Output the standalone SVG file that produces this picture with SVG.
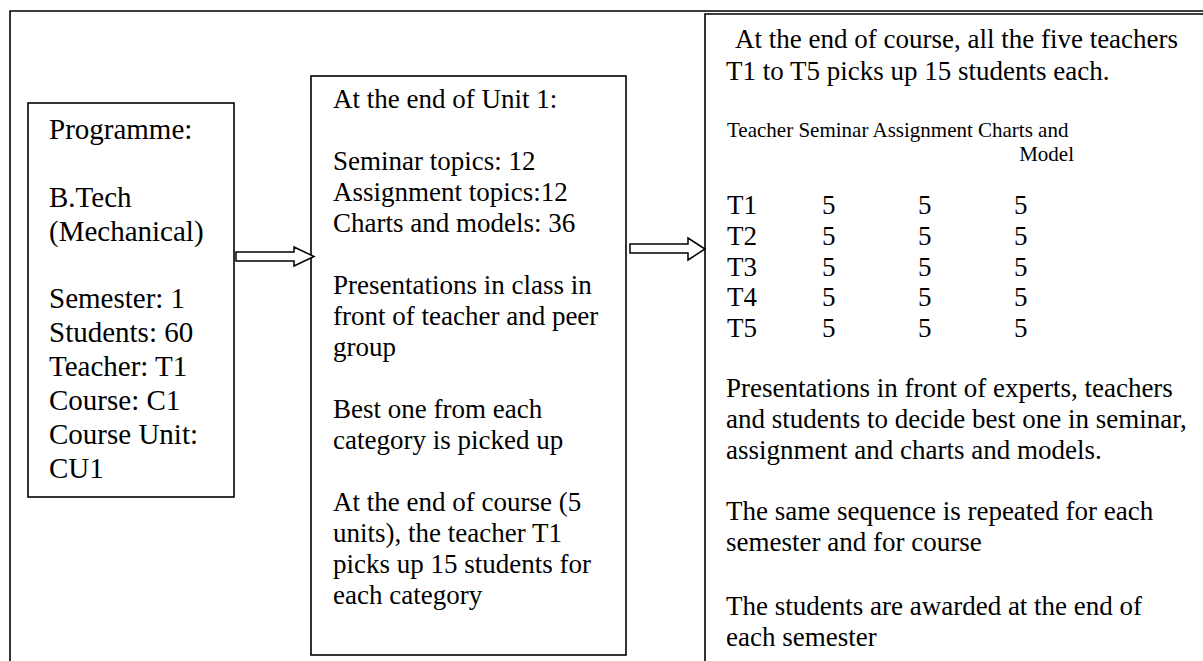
<svg xmlns="http://www.w3.org/2000/svg" width="1203" height="661" viewBox="0 0 1203 661">
<style>
.frame{fill:none;stroke:#000;stroke-width:1.6}
.box{fill:#fff;stroke:#000;stroke-width:1.6}
.arrow{fill:#fff;stroke:#000;stroke-width:1.5;stroke-linejoin:miter}
text{font-family:"Liberation Serif","Times New Roman",serif;fill:#000}
.l{font-size:29px}
.m{font-size:27px}
.s{font-size:21px}
</style>
<rect width="1203" height="661" fill="#fff"/>
<g id="frame">
<path class="frame" d="M10,661 V11 H1203"/>
</g>
<g id="node-programme">
<rect class="box" x="28" y="103" width="206" height="394"/>
<text class="l" x="49" y="139">Programme:</text>
<text class="l" x="49" y="207">B.Tech</text>
<text class="l" x="49" y="241">(Mechanical)</text>
<text class="l" x="49" y="308">Semester: 1</text>
<text class="l" x="49" y="342">Students: 60</text>
<text class="l" x="49" y="376">Teacher: T1</text>
<text class="l" x="49" y="410">Course: C1</text>
<text class="l" x="49" y="444">Course Unit:</text>
<text class="l" x="49" y="478">CU1</text>
</g>
<g id="node-unit">
<rect class="box" x="311" y="76" width="315" height="579"/>
<text class="m" x="333" y="108">At the end of Unit 1:</text>
<text class="m" x="333" y="170">Seminar topics: 12</text>
<text class="m" x="333" y="201">Assignment topics:12</text>
<text class="m" x="333" y="232">Charts and models: 36</text>
<text class="m" x="333" y="294">Presentations in class in</text>
<text class="m" x="333" y="325">front of teacher and peer</text>
<text class="m" x="333" y="356">group</text>
<text class="m" x="333" y="418">Best one from each</text>
<text class="m" x="333" y="449">category is picked up</text>
<text class="m" x="333" y="511">At the end of course (5</text>
<text class="m" x="333" y="542">units), the teacher T1</text>
<text class="m" x="333" y="573">picks up 15 students for</text>
<text class="m" x="333" y="604">each category</text>
</g>
<g id="node-course">
<path class="box" d="M705,661 V14 H1203"/>
<text class="m" x="735" y="48">At the end of course, all the five teachers</text>
<text class="m" x="726" y="80">T1 to T5 picks up 15 students each.</text>
<text class="s" x="727" y="137">Teacher Seminar Assignment Charts and</text>
<text class="s" x="1074" y="161" text-anchor="end">Model</text>
<g class="m">
<text x="727" y="214">T1</text><text x="822" y="214">5</text><text x="918" y="214">5</text><text x="1014" y="214">5</text>
<text x="727" y="245">T2</text><text x="822" y="245">5</text><text x="918" y="245">5</text><text x="1014" y="245">5</text>
<text x="727" y="276">T3</text><text x="822" y="276">5</text><text x="918" y="276">5</text><text x="1014" y="276">5</text>
<text x="727" y="306">T4</text><text x="822" y="306">5</text><text x="918" y="306">5</text><text x="1014" y="306">5</text>
<text x="727" y="337">T5</text><text x="822" y="337">5</text><text x="918" y="337">5</text><text x="1014" y="337">5</text>
</g>
<text class="m" x="726" y="397">Presentations in front of experts, teachers</text>
<text class="m" x="726" y="428">and students to decide best one in seminar,</text>
<text class="m" x="726" y="459">assignment and charts and models.</text>
<text class="m" x="726" y="520">The same sequence is repeated for each</text>
<text class="m" x="726" y="551">semester and for course</text>
<text class="m" x="726" y="615">The students are awarded at the end of</text>
<text class="m" x="726" y="646">each semester</text>
</g>
<g id="connectors">
<path class="arrow" d="M236,252 H294 V247 L314,256.5 L294,266 V261 H236 Z"/>
<path class="arrow" d="M630,244 H688 V238 L705,249 L688,260 V253 H630 Z"/>
</g>
</svg>
